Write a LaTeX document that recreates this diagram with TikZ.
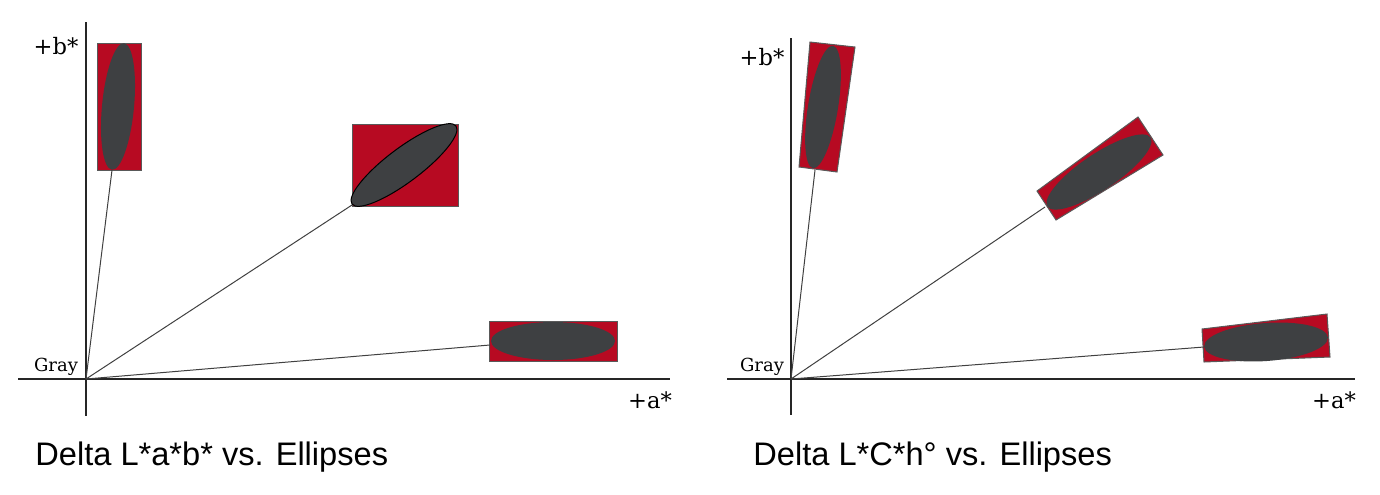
\documentclass[tikz,border=0pt]{standalone}
\usepackage{fontspec}
\newfontfamily\capfont{Liberation Sans}
\newfontfamily\axfont{DejaVu Serif}
\usetikzlibrary{positioning}
\definecolor{boxred}{RGB}{183,10,34}
\definecolor{ellgray}{RGB}{62,64,66}

\begin{document}
\begin{tikzpicture}[x=0.5pt,y=-0.5pt,
  axis/.style={line width=1.25pt,black!85},
  ray/.style={line width=0.5pt,black!75},
  tolbox/.style={fill=boxred,draw=black!65,line width=0.5pt},
  ell/.style={fill=ellgray},
  lbl/.style={font=\axfont\fontsize{11.3}{13}\selectfont,inner sep=0pt},
  graylbl/.style={font=\axfont\fontsize{9}{10}\selectfont,inner sep=0pt},
  caption/.style={font=\capfont\fontsize{16.3}{19}\selectfont,inner sep=0pt,anchor=base west}]
  \useasboundingbox (0,0) rectangle (1380,494);

  % Left panel: axes
  \coordinate (O1) at (86,379);
  \draw[axis] (86,22) -- (86,416);
  \draw[axis] (18,379) -- (670,379);
  \node[lbl] (b1) at (56,46) {+b*};
  \node[lbl] (a1) at (650,400) {+a*};
  \node[graylbl] (g1) at (56,367) {Gray};

  % Left panel: boxes and ellipses
  \draw[tolbox] (97,43) rectangle (141,170);
  \fill[ell,rotate around={84.6:(118,106.5)}] (118,106.5) ellipse [x radius=63.5,y radius=16];
  \draw[tolbox] (352,124) rectangle (458,206);
  \filldraw[ell,draw=black,line width=0.5pt,rotate around={36.9:(404,165)}] (404,165) ellipse [x radius=65,y radius=17];
  \draw[tolbox] (489,321) rectangle (617,361);
  \fill[ell] (553,341) ellipse [x radius=62,y radius=19];

  % Left panel: rays
  \coordinate (l1) at (112,170);
  \coordinate (l2) at (352,205);
  \coordinate (l3) at (490,345);
  \draw[ray] (O1) -- (l1);
  \draw[ray] (O1) -- (l2);
  \draw[ray] (O1) -- (l3);

  % Right panel: axes
  \coordinate (O2) at (791,379);
  \draw[axis] (791,38) -- (791,415);
  \draw[axis] (727,379) -- (1355,379);
  \node[lbl] (b2) at (762,57) {+b*};
  \node[lbl] (a2) at (1334,400) {+a*};
  \node[graylbl] (g2) at (762,367) {Gray};

  % Right panel: boxes and ellipses
  \draw[tolbox] (810,42) -- (855,47) -- (837,172) -- (799,167) -- cycle;
  \fill[ell,rotate around={80.7:(823,107)}] (823,107) ellipse [x radius=62,y radius=15];
  \draw[tolbox] (1037,191) -- (1138,117) -- (1163,155) -- (1056,220) -- cycle;
  \fill[ell,rotate around={33.8:(1099,172)}] (1099,172) ellipse [x radius=62,y radius=18];
  \draw[tolbox] (1202,329) -- (1327,314) -- (1330,357) -- (1204,362) -- cycle;
  \fill[ell,rotate around={4.2:(1266,342)}] (1266,342) ellipse [x radius=62,y radius=19];

  % Right panel: rays
  \coordinate (r1) at (815,170);
  \coordinate (r2) at (1045,207);
  \coordinate (r3) at (1204,347);
  \draw[ray] (O2) -- (r1);
  \draw[ray] (O2) -- (r2);
  \draw[ray] (O2) -- (r3);

  % Captions
  \node[caption] (c1) at (35,465) {Delta L*a*b* vs. Ellipses};
  \node[caption] (c2) at (753,465) {Delta L*C*h\textdegree{} vs. Ellipses};
\end{tikzpicture}
\end{document}
